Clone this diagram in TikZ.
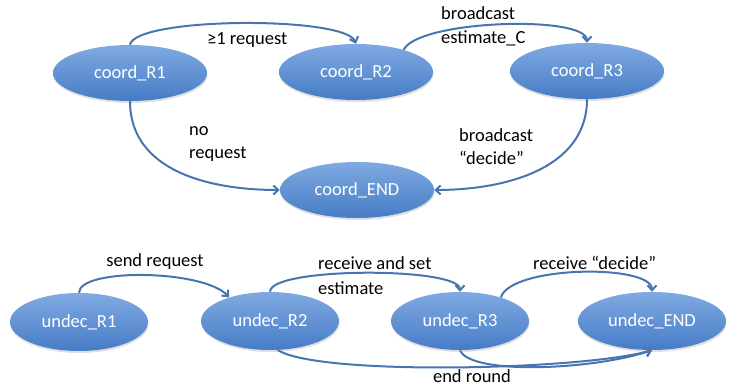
\documentclass[tikz,border=0pt]{standalone}
\usepackage{fontspec}
\setmainfont{Carlito}
\usetikzlibrary{shapes.geometric,arrows.meta,shadows}

\definecolor{stateTop}{RGB}{128,170,226}
\definecolor{stateBot}{RGB}{70,124,198}
\definecolor{edgeBlue}{RGB}{72,116,176}

\begin{document}
\begin{tikzpicture}[x=1pt,y=-1pt,
  state/.style={ellipse, minimum width=154pt, minimum height=56pt, inner sep=0pt,
    top color=stateTop, bottom color=stateBot, text=white,
    font=\fontsize{18.5}{22}\selectfont,
    drop shadow={opacity=0.25,shadow xshift=0.5pt,shadow yshift=-2pt}},
  lbl/.style={font=\fontsize{18.5}{22}\selectfont, inner sep=0pt},
  trans/.style={draw=edgeBlue, line width=2pt, -{Straight Barb[length=5pt,width=9pt]}}]
\useasboundingbox (0,0) rectangle (729,387);

% coordinator
\node [state] (cR1) at (130,73) {coord\_R1};
\node [state] (cR2) at (356,72) {coord\_R2};
\node [state] (cR3) at (587,71) {coord\_R3};
\node [state] (cEND) at (357,190) {coord\_END};

\draw [trans] (cR1.north) .. controls +(5,-28) and +(-10,-28) .. (cR2.north);
\node [lbl, anchor=west] (lReq) at (207,40) {≥1 request};
\draw [trans] (cR2.25) .. controls +(15,-30) and +(0,-28) .. (cR3.north);
\node [lbl, anchor=west] (lBc) at (441,13) {broadcast};
\node [lbl, anchor=west] (lEst) at (441,38) {estimate\_C};
\draw [trans] (cR1.south) .. controls +(0,70) and +(-70,0) .. (cEND.west);
\node [lbl, anchor=west] (lNo) at (189,131) {no};
\node [lbl, anchor=west] (lNoReq) at (189,154) {request};
\draw [trans] (cR3.south) .. controls +(0,70) and +(70,0) .. (cEND.east);
\node [lbl, anchor=west] (lBcD) at (459,135) {broadcast};
\node [lbl, anchor=west] (lDec) at (459,158) {“decide”};

% undecided
\node [state, minimum width=138pt, minimum height=58pt] (uR1) at (79,322) {undec\_R1};
\node [state, minimum width=138pt, minimum height=58pt] (uR2) at (270,321) {undec\_R2};
\node [state, minimum width=138pt, minimum height=58pt] (uR3) at (460,321) {undec\_R3};
\node [state, minimum width=148pt, minimum height=58pt] (uEND) at (652,321) {undec\_END};

\draw [trans] (uR1.north) .. controls +(0,-25) and +(-25,-28) .. (uR2.150);
\node [lbl] (lSend) at (155,262) {send request};
\draw [trans] (uR2.north) .. controls +(0,-25) and +(0,-25) .. (uR3.north);
\node [lbl, anchor=west] (lRecv) at (318,263) {receive and set};
\node [lbl, anchor=west] (lSet) at (318,288) {estimate};
\draw [trans] (uR3.30) .. controls +(10,-32) and +(0,-28) .. (uEND.north);
\node [lbl, anchor=west] (lRecvD) at (533,263) {receive “decide”};
\draw [trans] (uR2.-75) .. controls +(40,26) and +(-70,20) .. (uEND.south);
\draw [trans] (uR3.south) .. controls +(10,25) and +(-60,20) .. (uEND.south);
\node [lbl] (lEnd) at (472,376) {end round};
\end{tikzpicture}
\end{document}
